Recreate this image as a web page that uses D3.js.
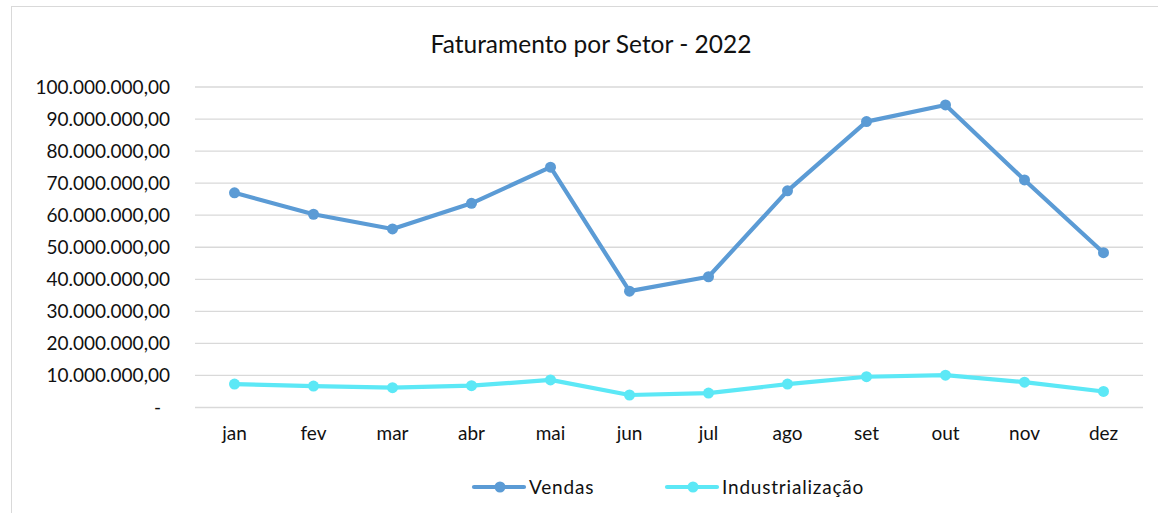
<!DOCTYPE html>
<html>
<head>
<meta charset="utf-8">
<script src="https://cdn.jsdelivr.net/npm/d3@7"></script>
<style>
  body { margin: 0; background: #fff; }
  svg { font-family: Lato, "Open Sans", sans-serif; }
</style>
</head>
<body>
<svg id="chart" width="1158" height="513"></svg>
<script>
// Data
var months = ['jan', 'fev', 'mar', 'abr', 'mai', 'jun', 'jul', 'ago', 'set', 'out', 'nov', 'dez'];
var vendas = [67000000, 60300000, 55700000, 63700000, 75000000, 36300000, 40800000, 67600000, 89200000, 94400000, 71000000, 48300000];
var industrializacao = [7300000, 6700000, 6200000, 6800000, 8600000, 3900000, 4500000, 7300000, 9600000, 10100000, 7900000, 5000000];
var yTicks = [0, 10000000, 20000000, 30000000, 40000000, 50000000, 60000000, 70000000, 80000000, 90000000, 100000000];

var series = [
    {name: 'Vendas', values: vendas, color: '#5b9bd5'},
    {name: 'Industrialização', values: industrializacao, color: '#5ce8f6'}
];

var svg = d3.select('#chart');
var margin = {left: 195, right: 15, top: 87, bottom: 105.5};
var width = 1158, height = 513;

// chart border
svg.append('rect')
    .attr('x', 11.5).attr('y', 6.5)
    .attr('width', 1160).attr('height', 520)
    .attr('fill', '#fff').attr('stroke', '#d9d9d9');

var x = d3.scaleBand().domain(months).range([margin.left, width - margin.right]);
var y = d3.scaleLinear().domain([0, 100000000]).range([height - margin.bottom, margin.top]);

// number format pt-BR
var ptBR = d3.formatLocale({decimal: ',', thousands: '.', grouping: [3], currency: ['R$', '']});
var fmt = ptBR.format(',.2f');

// gridlines
svg.append('g').selectAll('line')
    .data(yTicks).enter().append('line')
    .attr('x1', margin.left).attr('x2', width - margin.right)
    .attr('y1', function(d){ return y(d); }).attr('y2', function(d){ return y(d); })
    .attr('stroke', '#d9d9d9').attr('stroke-width', 1.3);

// y axis labels
var yAxis = d3.axisLeft(y).tickValues(yTicks).tickSize(0).tickPadding(0)
    .tickFormat(function(d){ return d === 0 ? '-' : fmt(d); });
var gy = svg.append('g').attr('transform', 'translate(170,0)').call(yAxis);
gy.select('.domain').remove();
gy.selectAll('text').attr('font-size', 19).attr('fill', '#111').attr('font-family', 'Lato, sans-serif');
gy.selectAll('.tick').filter(function(d){ return d === 0; }).select('text').attr('dx', -9);

// x axis labels
var xAxis = d3.axisBottom(x).tickSize(0).tickPadding(0);
var gx = svg.append('g').attr('transform', 'translate(0,' + (height - margin.bottom + 19) + ')').call(xAxis);
gx.select('.domain').remove();
gx.selectAll('text').attr('font-size', 19).attr('fill', '#111').attr('font-family', 'Lato, sans-serif');

// lines and markers
var line = d3.line()
    .x(function(d, i){ return x(months[i]) + x.bandwidth() / 2; })
    .y(function(d){ return y(d); });

series.forEach(function(s) {
    svg.append('path')
        .datum(s.values)
        .attr('fill', 'none')
        .attr('stroke', s.color)
        .attr('stroke-width', 4.2)
        .attr('stroke-linejoin', 'round')
        .attr('d', line);
    svg.append('g').selectAll('circle')
        .data(s.values).enter().append('circle')
        .attr('cx', function(d, i){ return x(months[i]) + x.bandwidth() / 2; })
        .attr('cy', function(d){ return y(d); })
        .attr('r', 5.5)
        .attr('fill', s.color);
});

// title
svg.append('text')
    .attr('x', 591).attr('y', 53)
    .attr('text-anchor', 'middle')
    .attr('font-size', 24.5)
    .attr('fill', '#111')
    .text('Faturamento por Setor - 2022');

// legend
var legendPos = [474, 667];
series.forEach(function(s, i) {
    var lg = svg.append('g').attr('transform', 'translate(' + legendPos[i] + ',487)');
    lg.append('line').attr('x1', 0).attr('x2', 50)
        .attr('stroke', s.color).attr('stroke-width', 4.2).attr('stroke-linecap', 'round');
    lg.append('circle').attr('cx', 26).attr('r', 5.5).attr('fill', s.color);
    lg.append('text').attr('x', 55).attr('y', 7)
        .attr('font-size', 19).attr('letter-spacing', 0.8).attr('fill', '#111')
        .text(s.name);
});
</script>
</body>
</html>
